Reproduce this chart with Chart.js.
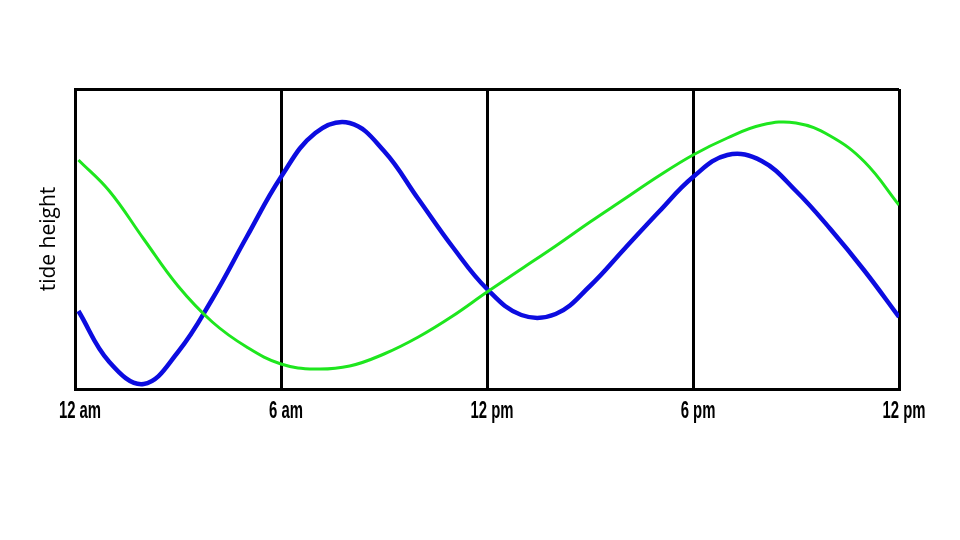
<!DOCTYPE html>
<html>
<head>
<meta charset="utf-8">
<script src="https://cdn.jsdelivr.net/npm/chart.js@4"></script>
<style>
  html, body { margin: 0; padding: 0; background: #fff; }
  #wrap { width: 960px; height: 540px; }
</style>
</head>
<body>
<div id="wrap"><canvas id="tideChart"></canvas></div>
<script>
// hours since midnight and tide heights
const hours = [0.1, 1, 2, 3, 4, 5, 6, 7, 8, 9, 10, 11, 12, 13, 14, 15, 16, 17, 18, 19, 20, 21, 22, 23, 24];
const blueHeights  = [78, 27, 5, 37, 90, 152, 212, 256, 266, 238, 190, 142, 100, 74, 75, 103, 140, 177, 212, 234, 228, 198, 160, 118, 72];
const greenHeights = [229, 198, 150, 103, 67, 42, 25, 20, 23, 35, 52, 73, 97, 120, 143, 167, 190, 213, 234, 251, 264, 266, 253, 227, 184];

const tickHours  = [0, 6, 12, 18, 24];
const tickLabels = ['12 am', '6 am', '12 pm', '6 pm', '12 pm'];

function toPoints(xs, ys) {
  return xs.map((x, i) => ({ x: x, y: ys[i] }));
}

// tick labels in a narrow heavy face: squeeze a bold sans horizontally
const narrowLabels = {
  id: 'narrowLabels',
  afterDraw(chart) {
    const c = chart.ctx;
    const xs = chart.scales.x;
    const base = chart.chartArea.bottom + 29;
    c.save();
    c.fillStyle = '#000';
    c.font = 'bold 24px "Liberation Sans", Arial, sans-serif';
    c.textAlign = 'center';
    c.textBaseline = 'alphabetic';
    tickHours.forEach((h, i) => {
      const px = xs.getPixelForValue(h);
      c.save();
      c.translate(px + 5, base);
      c.scale(0.62, 1);
      c.fillText(tickLabels[i], 0, 0);
      c.restore();
    });
    c.restore();
  }
};

const ctx = document.getElementById('tideChart').getContext('2d');

new Chart(ctx, {
  type: 'line',
  data: {
    datasets: [
      {
        label: 'green',
        data: toPoints(hours, greenHeights),
        borderColor: '#1ee61e',
        borderWidth: 3,
        pointRadius: 0,
        tension: 0.4,
        fill: false
      },
      {
        label: 'blue',
        data: toPoints(hours, blueHeights),
        borderColor: '#0c0ce0',
        borderWidth: 4.5,
        pointRadius: 0,
        tension: 0.4,
        fill: false
      }
    ]
  },
  options: {
    responsive: true,
    maintainAspectRatio: false,
    animation: false,
    layout: { padding: { left: 0, top: 89, right: 61, bottom: 111 } },
    plugins: { legend: { display: false }, tooltip: { enabled: false } },
    scales: {
      x: {
        type: 'linear',
        min: 0,
        max: 24,
        afterBuildTicks: (scale) => {
          scale.ticks = tickHours.map(v => ({ value: v }));
        },
        afterFit: (scale) => { scale.height = 40; },
        ticks: { display: false },
        grid: { color: '#000', lineWidth: 3, drawTicks: false },
        border: { display: true, color: '#000', width: 3 }
      },
      y: {
        min: 0,
        max: 300,
        afterBuildTicks: (scale) => {
          scale.ticks = [{ value: 0 }, { value: 300 }];
        },
        afterFit: (scale) => { scale.width = 75; },
        ticks: { display: false },
        grid: { color: '#000', lineWidth: 3, drawTicks: false },
        border: { display: true, color: '#000', width: 3 },
        title: {
          display: true,
          text: 'tide height',
          color: '#000',
          padding: { top: 36, bottom: 0 },
          font: { family: '"Open Sans", sans-serif', size: 21 }
        }
      }
    }
  },
  plugins: [narrowLabels]
});
</script>
</body>
</html>
